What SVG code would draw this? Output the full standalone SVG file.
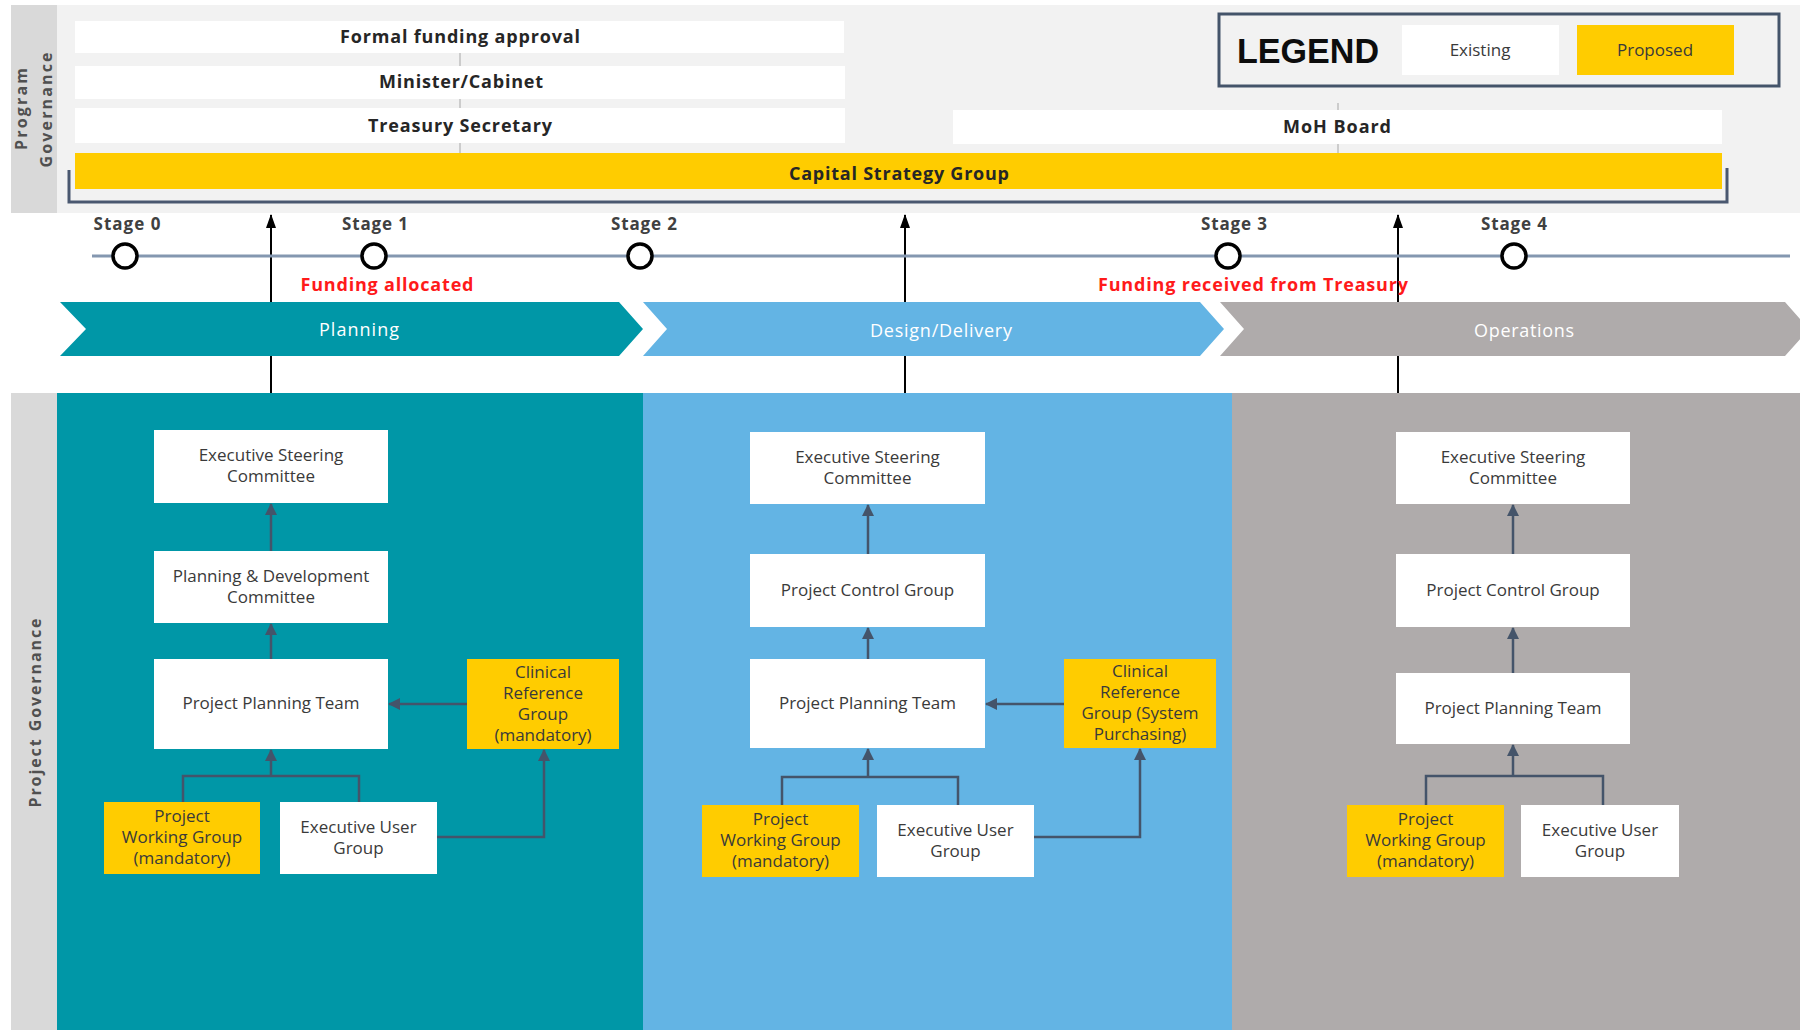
<svg xmlns="http://www.w3.org/2000/svg" width="1800" height="1030" viewBox="0 0 1800 1030">
  <style>
    .band { fill: #d9d9d9; }
    .box { fill: #ffffff; }
    .prop { fill: #ffcc00; }
    .n { font-family: "Open Sans", "Liberation Sans", sans-serif; font-size: 17px; fill: #3a3a3a; text-anchor: middle; }
    .hb { font-family: "Open Sans", "Liberation Sans", sans-serif; font-size: 18px; font-weight: bold; fill: #262626; text-anchor: middle; }
    .stage { font-family: "Open Sans", "Liberation Sans", sans-serif; font-size: 17px; font-weight: bold; fill: #404040; text-anchor: middle; }
    .red { font-family: "Open Sans", "Liberation Sans", sans-serif; font-size: 18px; font-weight: bold; fill: #ff1a1a; text-anchor: middle; }
    .chev { font-family: "Open Sans", "Liberation Sans", sans-serif; font-size: 18px; fill: #ffffff; text-anchor: middle; }
    .side { font-family: "Open Sans", "Liberation Sans", sans-serif; font-size: 16px; font-weight: bold; fill: #505050; text-anchor: middle; }
    .tick { stroke: #a6a6a6; stroke-width: 1; fill: none; }
    .conn { stroke: #44546a; stroke-width: 2.5; fill: none; }
    .flow { stroke: #000000; stroke-width: 2; fill: none; }
    .stageDot { fill: #ffffff; stroke: #000000; stroke-width: 3.5; }
  </style>
  <defs>
    <marker id="ah" viewBox="0 0 12 12" refX="11" refY="6" markerWidth="12" markerHeight="12" markerUnits="userSpaceOnUse" orient="auto">
      <path d="M0,0 L12,6 L0,12 Z" fill="#44546a"/>
    </marker>
    <marker id="ahBlack" viewBox="0 0 14 10" refX="13" refY="5" markerWidth="14" markerHeight="10" markerUnits="userSpaceOnUse" orient="auto">
      <path d="M0,0 L14,5 L0,10 Z" fill="#000000"/>
    </marker>
  </defs>

  <!-- backgrounds -->
  <rect x="0" y="0" width="1800" height="1030" fill="#ffffff"/>
  <rect x="57" y="5" width="1743" height="208" fill="#f2f2f2"/>
  <rect class="band" x="11" y="5" width="46" height="208"/>
  <rect class="band" x="11" y="393" width="46" height="637"/>
  <rect x="57" y="393" width="586" height="637" fill="#0097a7"/>
  <rect x="643" y="393" width="589" height="637" fill="#63b4e4"/>
  <rect x="1232" y="393" width="568" height="637" fill="#afabab"/>

  <!-- side labels -->
  <text class="side" transform="translate(27,109) rotate(-90)" textLength="82" lengthAdjust="spacing">Program</text>
  <text class="side" transform="translate(52,110) rotate(-90)" textLength="115" lengthAdjust="spacing">Governance</text>
  <text class="side" font-size="17" fill="#404040" transform="translate(41,713) rotate(-90)" textLength="189" lengthAdjust="spacing">Project Governance</text>

  <!-- program governance bracket -->
  <path d="M69,170 V202 H1727 V168" fill="none" stroke="#4a5870" stroke-width="3"/>

  <!-- legend -->
  <g id="legend">
    <rect x="1219" y="14" width="560" height="72" fill="#f2f2f2" stroke="#44546a" stroke-width="3"/>
    <text x="1308" y="63" font-family="'Liberation Sans', sans-serif" font-size="35" font-weight="bold" fill="#0d0d0d" text-anchor="middle" textLength="142" lengthAdjust="spacingAndGlyphs">LEGEND</text>
    <rect class="box" x="1402" y="25" width="157" height="50"/>
    <text class="n" x="1480" y="56" font-size="16">Existing</text>
    <rect class="prop" x="1577" y="25" width="157" height="50"/>
    <text class="n" x="1655" y="56" font-size="16" fill="#262626">Proposed</text>
  </g>

  <!-- program governance nodes -->
  <g id="formal-funding-approval">
    <rect class="box" x="75" y="21" width="769" height="32"/>
    <text class="hb" x="460" y="43" textLength="240" lengthAdjust="spacing">Formal funding approval</text>
  </g>
  <g id="minister-cabinet">
    <rect class="box" x="75" y="66" width="770" height="33"/>
    <text class="hb" x="461" y="88" textLength="164" lengthAdjust="spacing">Minister/Cabinet</text>
  </g>
  <g id="treasury-secretary">
    <rect class="box" x="75" y="108" width="770" height="35"/>
    <text class="hb" x="460" y="132" textLength="184" lengthAdjust="spacing">Treasury Secretary</text>
  </g>
  <g id="moh-board">
    <rect class="box" x="953" y="110" width="769" height="34"/>
    <text class="hb" x="1337" y="133" textLength="108" lengthAdjust="spacing">MoH Board</text>
  </g>
  <g id="capital-strategy-group">
    <rect class="prop" x="75" y="153" width="1647" height="36"/>
    <text class="hb" x="899" y="180" textLength="220" lengthAdjust="spacing">Capital Strategy Group</text>
  </g>

  <!-- connectors -->
  <g id="connectors">
    <!-- program governance links -->
    <path class="tick" d="M460,53 V66 M460,99 V108 M460,143 V153 M1338,103 V110 M1338,144 V153"/>
    <!-- stage gate arrows -->
    <path class="flow" d="M271,393 V215" marker-end="url(#ahBlack)"/>
    <path class="flow" d="M905,393 V215" marker-end="url(#ahBlack)"/>
    <path class="flow" d="M1398,393 V215" marker-end="url(#ahBlack)"/>

    <!-- planning -->
    <path class="conn" d="M271,551 V504" marker-end="url(#ah)"/>
    <path class="conn" d="M271,659 V624" marker-end="url(#ah)"/>
    <path class="conn" d="M467,704 H389" marker-end="url(#ah)"/>
    <path class="conn" d="M183,802 V776 H359 V802"/>
    <path class="conn" d="M271,776 V750" marker-end="url(#ah)"/>
    <path class="conn" d="M437,837 H544 V750" marker-end="url(#ah)"/>

    <!-- design / delivery -->
    <path class="conn" d="M868,554 V505" marker-end="url(#ah)"/>
    <path class="conn" d="M868,659 V628" marker-end="url(#ah)"/>
    <path class="conn" d="M1064,704 H986" marker-end="url(#ah)"/>
    <path class="conn" d="M782,805 V777 H958 V805"/>
    <path class="conn" d="M868,777 V749" marker-end="url(#ah)"/>
    <path class="conn" d="M1034,837 H1140 V749" marker-end="url(#ah)"/>

    <!-- operations -->
    <path class="conn" d="M1513,554 V505" marker-end="url(#ah)"/>
    <path class="conn" d="M1513,673 V628" marker-end="url(#ah)"/>
    <path class="conn" d="M1426,805 V776 H1603 V805"/>
    <path class="conn" d="M1513,776 V745" marker-end="url(#ah)"/>
  </g>

  <!-- timeline -->
  <line x1="92" y1="256" x2="1790" y2="256" stroke="#8497b0" stroke-width="3"/>
  <circle class="stageDot" cx="125" cy="256" r="12"/>
  <circle class="stageDot" cx="374" cy="256" r="12"/>
  <circle class="stageDot" cx="640" cy="256" r="12"/>
  <circle class="stageDot" cx="1228" cy="256" r="12"/>
  <circle class="stageDot" cx="1514" cy="256" r="12"/>
  <text class="stage" x="127" y="230" textLength="67" lengthAdjust="spacing">Stage 0</text>
  <text class="stage" x="375" y="230" textLength="66" lengthAdjust="spacing">Stage 1</text>
  <text class="stage" x="644" y="230" textLength="66" lengthAdjust="spacing">Stage 2</text>
  <text class="stage" x="1234" y="230" textLength="66" lengthAdjust="spacing">Stage 3</text>
  <text class="stage" x="1514" y="230" textLength="66" lengthAdjust="spacing">Stage 4</text>
  <text class="red" x="387" y="291" textLength="173" lengthAdjust="spacing">Funding allocated</text>
  <text class="red" x="1253" y="291" textLength="310" lengthAdjust="spacing">Funding received from Treasury</text>

  <!-- phase chevrons -->
  <path d="M60,302 L619,302 L643,329 L619,356 L60,356 L86,329 Z" fill="#0097a7"/>
  <path d="M643,302 L1200,302 L1224,329 L1200,356 L643,356 L667,329 Z" fill="#63b4e4"/>
  <path d="M1220,302 L1785,302 L1809,329 L1785,356 L1220,356 L1244,329 Z" fill="#afabab"/>
  <text class="chev" x="359" y="336" textLength="80" lengthAdjust="spacing">Planning</text>
  <text class="chev" x="941" y="337" textLength="142" lengthAdjust="spacing">Design/Delivery</text>
  <text class="chev" x="1524" y="337" textLength="100" lengthAdjust="spacing">Operations</text>

  <!-- planning phase nodes -->
  <g id="p-executive-steering">
    <rect class="box" x="154" y="430" width="234" height="73"/>
    <text class="n" x="271" y="461">Executive Steering</text>
    <text class="n" x="271" y="482">Committee</text>
  </g>
  <g id="p-planning-development">
    <rect class="box" x="154" y="551" width="234" height="72"/>
    <text class="n" x="271" y="582">Planning &amp; Development</text>
    <text class="n" x="271" y="603">Committee</text>
  </g>
  <g id="p-project-planning-team">
    <rect class="box" x="154" y="659" width="234" height="90"/>
    <text class="n" x="271" y="709">Project Planning Team</text>
  </g>
  <g id="p-clinical-reference">
    <rect class="prop" x="467" y="659" width="152" height="90"/>
    <text class="n" x="543" y="678" fill="#262626">Clinical</text>
    <text class="n" x="543" y="699" fill="#262626">Reference</text>
    <text class="n" x="543" y="720" fill="#262626">Group</text>
    <text class="n" x="543" y="741" fill="#262626">(mandatory)</text>
  </g>
  <g id="p-project-working-group">
    <rect class="prop" x="104" y="802" width="156" height="72"/>
    <text class="n" x="182" y="822" fill="#262626">Project</text>
    <text class="n" x="182" y="843" fill="#262626">Working Group</text>
    <text class="n" x="182" y="864" fill="#262626">(mandatory)</text>
  </g>
  <g id="p-executive-user-group">
    <rect class="box" x="280" y="802" width="157" height="72"/>
    <text class="n" x="358.5" y="833">Executive User</text>
    <text class="n" x="358.5" y="854">Group</text>
  </g>

  <!-- design / delivery phase nodes -->
  <g id="d-executive-steering">
    <rect class="box" x="750" y="432" width="235" height="72"/>
    <text class="n" x="867.5" y="463">Executive Steering</text>
    <text class="n" x="867.5" y="484">Committee</text>
  </g>
  <g id="d-project-control-group">
    <rect class="box" x="750" y="554" width="235" height="73"/>
    <text class="n" x="867.5" y="596">Project Control Group</text>
  </g>
  <g id="d-project-planning-team">
    <rect class="box" x="750" y="659" width="235" height="89"/>
    <text class="n" x="867.5" y="709">Project Planning Team</text>
  </g>
  <g id="d-clinical-reference">
    <rect class="prop" x="1064" y="659" width="152" height="89"/>
    <text class="n" x="1140" y="677" fill="#262626">Clinical</text>
    <text class="n" x="1140" y="698" fill="#262626">Reference</text>
    <text class="n" x="1140" y="719" fill="#262626">Group (System</text>
    <text class="n" x="1140" y="740" fill="#262626">Purchasing)</text>
  </g>
  <g id="d-project-working-group">
    <rect class="prop" x="702" y="805" width="157" height="72"/>
    <text class="n" x="780.5" y="825" fill="#262626">Project</text>
    <text class="n" x="780.5" y="846" fill="#262626">Working Group</text>
    <text class="n" x="780.5" y="867" fill="#262626">(mandatory)</text>
  </g>
  <g id="d-executive-user-group">
    <rect class="box" x="877" y="805" width="157" height="72"/>
    <text class="n" x="955.5" y="836">Executive User</text>
    <text class="n" x="955.5" y="857">Group</text>
  </g>

  <!-- operations phase nodes -->
  <g id="o-executive-steering">
    <rect class="box" x="1396" y="432" width="234" height="72"/>
    <text class="n" x="1513" y="463">Executive Steering</text>
    <text class="n" x="1513" y="484">Committee</text>
  </g>
  <g id="o-project-control-group">
    <rect class="box" x="1396" y="554" width="234" height="73"/>
    <text class="n" x="1513" y="596">Project Control Group</text>
  </g>
  <g id="o-project-planning-team">
    <rect class="box" x="1396" y="673" width="234" height="71"/>
    <text class="n" x="1513" y="714">Project Planning Team</text>
  </g>
  <g id="o-project-working-group">
    <rect class="prop" x="1347" y="805" width="157" height="72"/>
    <text class="n" x="1425.5" y="825" fill="#262626">Project</text>
    <text class="n" x="1425.5" y="846" fill="#262626">Working Group</text>
    <text class="n" x="1425.5" y="867" fill="#262626">(mandatory)</text>
  </g>
  <g id="o-executive-user-group">
    <rect class="box" x="1521" y="805" width="158" height="72"/>
    <text class="n" x="1600" y="836">Executive User</text>
    <text class="n" x="1600" y="857">Group</text>
  </g>
</svg>
